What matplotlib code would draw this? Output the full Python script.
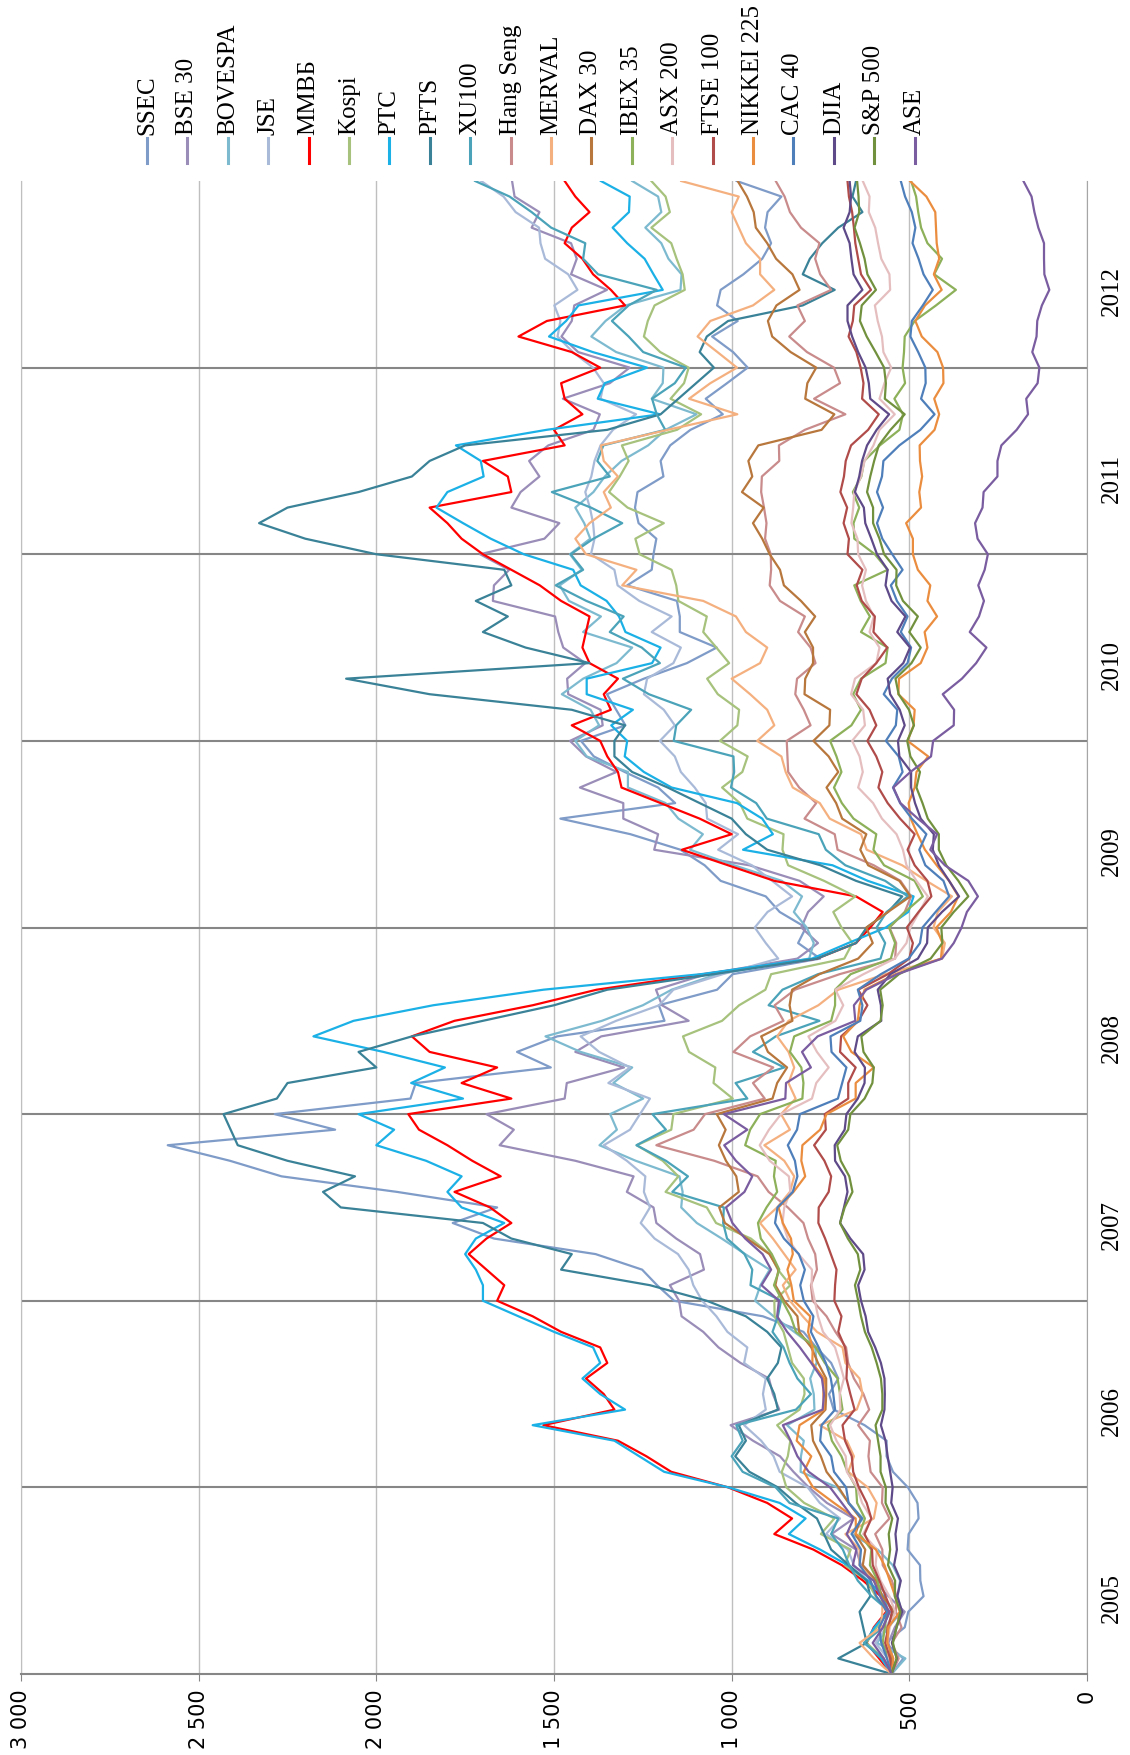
import numpy as np
import matplotlib
matplotlib.use("Agg")
import matplotlib.pyplot as plt
from matplotlib.lines import Line2D
from matplotlib.transforms import blended_transform_factory

# month index: 0 = start of Jan 2005, 96 = end of Dec 2012
months = np.arange(97)
years = ["2005", "2006", "2007", "2008", "2009", "2010", "2011", "2012"]
value_ticks = [0, 500, 1000, 1500, 2000, 2500, 3000]

ssec = [550,
        517, 567, 513, 503, 460, 469, 470, 505, 502, 474, 477, 504,
        546, 564, 564, 626, 713, 726, 700, 720, 762, 798, 912, 1162,
        1210, 1252, 1383, 1669, 1785, 1660, 1942, 2267, 2412, 2587, 2116, 2286,
        1904, 1889, 1509, 1604, 1491, 1189, 1205, 1041, 997, 751, 813, 791,
        865, 904, 1031, 1076, 1144, 1285, 1482, 1159, 1207, 1301, 1388, 1424,
        1299, 1325, 1351, 1247, 1126, 1042, 1146, 1146, 1154, 1294, 1225, 1220,
        1212, 1262, 1272, 1265, 1192, 1200, 1173, 1116, 1025, 1073, 1013, 955,
        996, 1055, 983, 1041, 1031, 967, 914, 889, 906, 899, 860, 986]
bse30 = [550,
         546, 559, 541, 513, 559, 599, 636, 650, 719, 657, 732, 783,
         826, 864, 940, 1003, 866, 884, 895, 975, 1037, 1080, 1141, 1148,
         1174, 1078, 1089, 1156, 1212, 1220, 1295, 1276, 1440, 1653, 1613, 1690,
         1470, 1464, 1303, 1440, 1367, 1121, 1196, 1213, 1071, 815, 757, 804,
         785, 741, 809, 950, 1218, 1207, 1305, 1305, 1427, 1324, 1410, 1455,
         1363, 1369, 1460, 1463, 1412, 1474, 1488, 1497, 1672, 1669, 1626, 1708,
         1527, 1485, 1620, 1594, 1541, 1570, 1516, 1389, 1371, 1475, 1343, 1287,
         1432, 1479, 1450, 1443, 1351, 1452, 1436, 1452, 1563, 1541, 1611, 1618]
bovespa = [550,
           511, 591, 559, 522, 533, 526, 547, 589, 663, 631, 670, 703,
           806, 805, 797, 844, 767, 769, 779, 761, 765, 824, 882, 934,
           919, 893, 962, 1028, 1098, 1142, 1138, 1147, 1270, 1372, 1323, 1342,
           1249, 1333, 1280, 1425, 1524, 1365, 1250, 1169, 1040, 782, 769, 789,
           825, 802, 859, 993, 1117, 1081, 1150, 1186, 1292, 1292, 1408, 1440,
           1373, 1397, 1478, 1418, 1324, 1280, 1418, 1368, 1458, 1484, 1422, 1455,
           1398, 1415, 1440, 1389, 1357, 1310, 1235, 1186, 1099, 1225, 1194, 1192,
           1325, 1395, 1355, 1298, 1144, 1141, 1178, 1198, 1243, 1198, 1207, 1280]
jse = [550,
       561, 595, 565, 543, 582, 617, 656, 673, 734, 695, 752, 786,
       865, 882, 917, 965, 904, 912, 904, 965, 956, 1012, 1043, 1083,
       1108, 1121, 1151, 1217, 1256, 1230, 1247, 1243, 1295, 1360, 1286, 1258,
       1230, 1347, 1286, 1373, 1425, 1325, 1204, 1164, 1025, 869, 904, 935,
       899, 830, 886, 943, 1038, 982, 1069, 1073, 1104, 1143, 1160, 1202,
       1160, 1191, 1247, 1238, 1164, 1143, 1225, 1169, 1260, 1321, 1330, 1396,
       1386, 1390, 1399, 1412, 1395, 1386, 1369, 1334, 1269, 1369, 1360, 1390,
       1447, 1490, 1482, 1499, 1434, 1460, 1525, 1538, 1542, 1608, 1642, 1705]
mmvb = [550,
        585, 620, 600, 565, 580, 630, 690, 770, 880, 830, 900, 1010,
        1170, 1240, 1320, 1530, 1330, 1360, 1410, 1350, 1370, 1480, 1560, 1660,
        1640, 1690, 1740, 1690, 1620, 1680, 1780, 1650, 1730, 1800, 1880, 1910,
        1620, 1760, 1660, 1850, 1900, 1780, 1560, 1380, 1080, 760, 650, 610,
        575, 650, 880, 1010, 1140, 1000, 1090, 1200, 1310, 1320, 1350, 1370,
        1450, 1340, 1360, 1320, 1400, 1420, 1410, 1400, 1480, 1540, 1620, 1700,
        1760, 1800, 1850, 1620, 1630, 1700, 1470, 1500, 1420, 1470, 1480, 1370,
        1450, 1600, 1520, 1300, 1340, 1390, 1420, 1470, 1450, 1400, 1440, 1470]
kospi = [550,
         572, 621, 592, 560, 595, 619, 682, 665, 749, 711, 796, 846,
         859, 842, 835, 872, 809, 795, 797, 830, 842, 854, 879, 880,
         835, 870, 892, 946, 1044, 1070, 1186, 1150, 1194, 1267, 1170, 1164,
         997, 1051, 1046, 1120, 1137, 1027, 979, 905, 889, 683, 660, 691,
         714, 652, 740, 841, 857, 854, 956, 977, 1027, 970, 955, 1033,
         984, 979, 1039, 1069, 1007, 1043, 1080, 1070, 1150, 1156, 1169, 1259,
         1271, 1191, 1293, 1345, 1315, 1290, 1309, 1154, 1086, 1172, 1134, 1121,
         1201, 1247, 1236, 1217, 1132, 1138, 1155, 1170, 1226, 1174, 1186, 1226]
rts = [550,
       579, 625, 598, 561, 572, 617, 674, 751, 839, 792, 865, 1009,
       1190, 1260, 1330, 1560, 1300, 1370, 1420, 1370, 1390, 1500, 1600, 1700,
       1700, 1720, 1750, 1720, 1640, 1760, 1800, 1760, 1860, 2000, 1950, 2050,
       1756, 1902, 1807, 1980, 2177, 2064, 1840, 1530, 1086, 774, 672, 566,
       503, 488, 617, 716, 968, 884, 914, 985, 1169, 1247, 1301, 1294,
       1339, 1278, 1408, 1408, 1224, 1200, 1299, 1317, 1352, 1425, 1446, 1585,
       1678, 1756, 1831, 1800, 1698, 1706, 1776, 1521, 1202, 1377, 1357, 1238,
       1391, 1514, 1466, 1431, 1194, 1220, 1245, 1294, 1335, 1289, 1287, 1368]
pfts = [550,
        700, 620, 630, 640, 610, 620, 670, 720, 740, 760, 820, 870,
        950, 990, 960, 980, 870, 880, 900, 870, 860, 900, 960, 1070,
        1230, 1480, 1450, 1620, 1700, 2100, 2150, 2060, 2250, 2390, 2410, 2430,
        2280, 2250, 2000, 2050, 1900, 1700, 1500, 1350, 1050, 760, 650, 620,
        560, 520, 650, 750, 900, 960, 1000, 1090, 1180, 1280, 1330, 1330,
        1300, 1450, 1850, 2085, 1400, 1580, 1700, 1630, 1720, 1620, 1640, 2000,
        2200, 2330, 2250, 2050, 1900, 1850, 1750, 1350, 1200, 1150, 1100, 1050,
        1090, 1070, 1010, 800, 710, 800, 780, 745, 700, 632, 660, 650]
xu100 = [550,
         573, 628, 575, 555, 606, 645, 669, 687, 720, 700, 837, 876,
         969, 1000, 969, 987, 819, 777, 815, 837, 854, 885, 870, 861,
         947, 942, 964, 1013, 1024, 1022, 1167, 1123, 1185, 1268, 1185, 1223,
         956, 989, 852, 940, 876, 753, 896, 857, 757, 581, 568, 592,
         564, 504, 568, 680, 735, 755, 901, 931, 1002, 993, 995, 1163,
         1156, 1114, 1233, 1306, 1202, 1253, 1343, 1304, 1409, 1495, 1418, 1453,
         1389, 1308, 1396, 1506, 1343, 1378, 1361, 1187, 1211, 1224, 1160, 1129,
         1249, 1290, 1337, 1290, 1211, 1376, 1418, 1412, 1508, 1563, 1625, 1722]
hang_seng = [550,
             530, 549, 522, 538, 536, 549, 575, 576, 596, 556, 577, 575,
             609, 615, 611, 644, 613, 629, 656, 672, 678, 708, 733, 772,
             777, 760, 765, 785, 798, 842, 896, 927, 1049, 1212, 1107, 1075,
             907, 940, 883, 995, 948, 854, 879, 822, 696, 540, 537, 556,
             513, 495, 525, 600, 702, 710, 795, 762, 810, 841, 843, 845,
             778, 797, 821, 816, 764, 778, 813, 794, 864, 893, 889, 890,
             906, 902, 909, 917, 915, 866, 867, 794, 680, 768, 695, 712,
             788, 838, 794, 815, 720, 751, 765, 753, 805, 836, 851, 876]
merval = [550,
          600, 640, 580, 576, 576, 600, 640, 640, 680, 600, 592, 617,
          672, 656, 676, 752, 648, 632, 640, 680, 688, 760, 800, 836,
          856, 820, 852, 884, 920, 872, 836, 824, 852, 908, 836, 861,
          820, 840, 824, 840, 872, 840, 756, 700, 568, 408, 400, 432,
          420, 380, 452, 520, 620, 636, 724, 752, 828, 848, 860, 928,
          880, 900, 948, 1000, 920, 900, 960, 988, 1080, 1308, 1268, 1410,
          1440, 1400, 1340, 1360, 1320, 1360, 1368, 1180, 984, 1120, 1060, 985,
          1040, 1096, 1060, 940, 880, 920, 920, 960, 980, 1000, 980, 1142]
dax = [550,
       550, 562, 562, 541, 576, 593, 631, 624, 652, 637, 671, 699,
       733, 749, 771, 776, 736, 734, 734, 757, 776, 810, 815, 852,
       877, 868, 894, 957, 1019, 1035, 980, 987, 1016, 1036, 1017, 1042,
       885, 872, 844, 898, 917, 829, 837, 830, 753, 644, 603, 621,
       560, 497, 528, 616, 638, 621, 689, 706, 733, 700, 727, 770,
       725, 723, 795, 793, 771, 771, 794, 765, 805, 853, 864, 893,
       914, 940, 910, 971, 942, 953, 925, 747, 711, 793, 787, 762,
       834, 886, 898, 874, 809, 829, 875, 900, 932, 938, 957, 983]
ibex = [550,
        559, 575, 569, 563, 581, 589, 611, 607, 640, 625, 647, 650,
        674, 691, 718, 729, 688, 695, 702, 738, 764, 819, 834, 857,
        881, 866, 887, 918, 926, 902, 872, 881, 876, 962, 948, 920,
        801, 798, 804, 836, 824, 720, 709, 709, 665, 552, 540, 557,
        512, 462, 485, 571, 601, 593, 657, 690, 712, 691, 705, 723,
        663, 636, 658, 636, 567, 561, 636, 611, 637, 655, 561, 597,
        655, 657, 641, 659, 635, 627, 583, 528, 518, 542, 512, 519,
        515, 513, 485, 425, 369, 430, 408, 449, 467, 475, 481, 495]
asx200 = [550,
          558, 562, 555, 540, 556, 581, 595, 591, 630, 606, 633, 647,
          676, 679, 705, 723, 694, 696, 684, 696, 709, 743, 757, 766,
          775, 774, 812, 842, 857, 852, 835, 839, 893, 921, 895, 861,
          774, 762, 727, 760, 784, 708, 686, 708, 629, 541, 508, 497,
          472, 448, 480, 508, 518, 536, 577, 602, 644, 631, 640, 661,
          625, 630, 664, 653, 593, 584, 612, 600, 622, 633, 622, 644,
          646, 663, 658, 655, 636, 626, 601, 584, 541, 584, 570, 551,
          573, 577, 589, 597, 554, 556, 579, 588, 596, 614, 612, 631]
ftse100 = [550,
           554, 568, 559, 549, 567, 584, 603, 605, 626, 607, 620, 642,
           658, 662, 681, 688, 654, 666, 677, 675, 681, 700, 691, 711,
           709, 705, 721, 737, 756, 755, 727, 720, 739, 768, 735, 738,
           672, 672, 651, 695, 692, 643, 618, 644, 560, 500, 490, 507,
           474, 438, 449, 485, 505, 485, 526, 561, 587, 576, 593, 618,
           593, 612, 649, 634, 593, 562, 601, 597, 634, 648, 632, 674,
           670, 685, 675, 694, 684, 679, 664, 616, 586, 633, 629, 637,
           649, 671, 659, 655, 608, 636, 644, 652, 656, 661, 670, 674]
nikkei = [550,
          545, 562, 559, 527, 540, 555, 570, 594, 650, 651, 712, 771,
          797, 776, 817, 809, 740, 742, 740, 773, 772, 785, 779, 825,
          832, 843, 828, 833, 856, 868, 826, 793, 804, 801, 751, 733,
          651, 651, 600, 663, 686, 645, 640, 626, 539, 411, 407, 424,
          383, 362, 388, 423, 456, 477, 496, 502, 485, 480, 447, 505,
          488, 485, 531, 529, 468, 449, 457, 422, 449, 441, 476, 490,
          490, 509, 467, 472, 464, 470, 471, 429, 416, 430, 404, 405,
          421, 465, 483, 456, 409, 431, 416, 423, 425, 427, 452, 498]
cac40 = [550,
         563, 579, 585, 562, 593, 609, 640, 636, 662, 633, 671, 678,
         712, 720, 751, 747, 709, 714, 721, 735, 755, 777, 770, 797,
         807, 794, 811, 853, 878, 871, 828, 815, 822, 842, 816, 808,
         701, 689, 677, 719, 722, 638, 632, 645, 580, 502, 470, 463,
         426, 388, 404, 455, 472, 452, 493, 526, 546, 519, 530, 566,
         538, 534, 572, 549, 505, 495, 524, 505, 535, 552, 519, 548,
         576, 591, 574, 591, 577, 573, 528, 469, 429, 467, 454, 455,
         475, 497, 493, 462, 434, 460, 474, 491, 483, 493, 512, 524]
djia = [550,
        535, 549, 536, 520, 534, 524, 543, 535, 539, 532, 551, 547,
        554, 561, 567, 580, 570, 569, 570, 580, 596, 616, 623, 636,
        644, 626, 630, 666, 695, 684, 674, 681, 709, 710, 682, 677,
        645, 626, 625, 654, 645, 579, 580, 589, 553, 476, 450, 448,
        408, 360, 388, 417, 434, 431, 468, 484, 495, 495, 528, 532,
        513, 527, 554, 561, 517, 498, 534, 511, 550, 567, 561, 591,
        607, 624, 628, 653, 641, 633, 619, 592, 557, 610, 614, 623,
        644, 661, 674, 674, 632, 657, 663, 668, 685, 668, 664, 668]
sp500 = [550,
         536, 546, 536, 525, 541, 540, 560, 554, 558, 548, 567, 566,
         581, 581, 588, 595, 576, 576, 580, 592, 606, 625, 636, 644,
         653, 638, 645, 673, 695, 682, 660, 669, 693, 703, 672, 666,
         626, 604, 600, 629, 635, 581, 575, 582, 529, 440, 407, 410,
         375, 334, 362, 396, 417, 417, 448, 463, 480, 470, 497, 506,
         487, 501, 530, 539, 494, 468, 500, 476, 518, 537, 536, 571,
         584, 602, 602, 619, 610, 599, 586, 553, 513, 569, 566, 571,
         595, 620, 639, 634, 594, 618, 626, 639, 654, 641, 643, 647]
ase = [550,
       572, 603, 574, 556, 582, 600, 659, 649, 676, 657, 690, 723,
       783, 815, 834, 856, 744, 740, 746, 776, 808, 844, 872, 867,
       916, 889, 913, 962, 998, 1016, 964, 942, 988, 1021, 956, 1022,
       849, 847, 777, 802, 758, 652, 656, 621, 534, 408, 375, 353,
       338, 307, 334, 400, 441, 422, 476, 525, 545, 497, 439, 433,
       375, 374, 406, 352, 312, 283, 330, 304, 290, 306, 288, 279,
       308, 315, 294, 291, 252, 252, 241, 198, 166, 171, 139, 134,
       154, 142, 140, 127, 106, 120, 121, 121, 137, 148, 156, 179]

names = ["SSEC", "BSE 30", "BOVESPA", "JSE", "ММВБ", "Kospi", "PTC", "PFTS",
         "XU100", "Hang Seng", "MERVAL", "DAX 30", "IBEX 35", "ASX 200",
         "FTSE 100", "NIKKEI 225", "CAC 40", "DJIA", "S&P 500", "ASE"]
series = [ssec, bse30, bovespa, jse, mmvb, kospi, rts, pfts, xu100, hang_seng,
          merval, dax, ibex, asx200, ftse100, nikkei, cac40, djia, sp500, ase]
colors = ["#7F9BC8", "#9A8DB8", "#7DBAD0", "#A9BAD9", "#FF0000", "#A6C27C",
          "#1BB0E6", "#3A8297", "#4AA3B9", "#C98B8B", "#F5B080", "#B8773C",
          "#8DB05A", "#E5BFC0", "#B04C4A", "#EB8D3F", "#4F7FBA", "#5E4A88",
          "#72913E", "#7A5CA0"]

W, H = 1130, 1755
fig = plt.figure(figsize=(W / 100, H / 100), dpi=100)
x0, x1, ytop, ybot = 21, 1087, 181, 1674
ax = fig.add_axes([x0 / W, 1 - ybot / H, (x1 - x0) / W, (ybot - ytop) / H])

for v in value_ticks:
    ax.axvline(v, color="#BFBFBF", lw=1, zorder=0)
for m in range(12, 96, 12):
    ax.axhline(m, color="#868686", lw=1.5, zorder=0)

for vals, c in zip(series, colors):
    ax.plot(vals, months, color=c, lw=1.6, solid_joinstyle="round", zorder=2)

ax.set_xlim(3000, 0)
ax.set_ylim(0, 96)
ax.set_xticks(value_ticks)
ax.set_xticklabels([f"{v:,}".replace(",", " ") for v in value_ticks],
                   rotation=90, fontsize=15, family="DejaVu Sans")
ax.tick_params(axis="x", direction="out", length=5, color="#868686", pad=6)
ax.set_yticks([])
ax.spines["top"].set_visible(False)
ax.spines["left"].set_color("#BFBFBF")
ax.spines["right"].set_color("#A6A6A6")
ax.spines["bottom"].set_color("#868686")
ax.spines["bottom"].set_linewidth(1.5)

tr = blended_transform_factory(ax.transAxes, ax.transData)
for i, yr in enumerate(years):
    ax.text((1112 - x0) / (x1 - x0), 12 * i + 4.9, yr, transform=tr, rotation=90,
            ha="center", va="center", fontsize=18, family="Liberation Serif")

# legend along the top, one rotated entry per series
for i, (name, c) in enumerate(zip(names, colors)):
    lx = (147 + 40.4 * i) / W
    fig.add_artist(Line2D([lx, lx], [1 - 138 / H, 1 - 163 / H], color=c, lw=2.2,
                          transform=fig.transFigure))
    fig.text(lx, 1 - 135 / H, name, rotation=90, ha="center", va="bottom",
             fontsize=18, family="Liberation Serif")

fig.savefig("out.png", dpi=100)
